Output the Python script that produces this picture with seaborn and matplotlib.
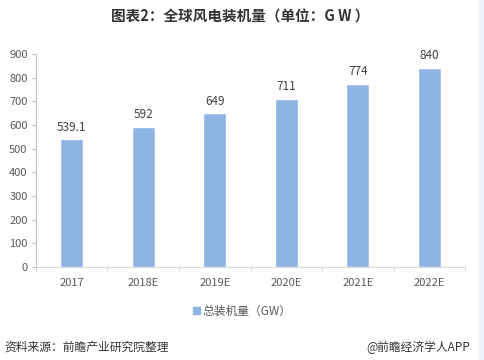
import pandas as pd
import matplotlib.pyplot as plt
import matplotlib.patches as mpatches
import seaborn as sns

# data
years = ["2017", "2018E", "2019E", "2020E", "2021E", "2022E"]
capacity = [539.1, 592, 649, 711, 774, 840]
value_labels = ["539.1", "592", "649", "711", "774", "840"]

df = pd.DataFrame({"year": years, "capacity": capacity})

sns.set_theme(style="white")
plt.rcParams["font.family"] = ["Noto Sans CJK SC", "DejaVu Sans"]

bar_color = "#8DB4E2"
grey = "#595959"

fig = plt.figure(figsize=(4.85, 3.6), dpi=100)
ax = fig.add_axes([0.074, 0.258, 0.885, 0.592])

sns.barplot(data=df, x="year", y="capacity", color=bar_color, width=0.32,
            saturation=1, ax=ax)

for i, (v, lab) in enumerate(zip(capacity, value_labels)):
    ax.text(i, v + 25, lab, ha="center", va="bottom", fontsize=8.5, color="#404040")

ax.set_ylim(0, 900)
ax.set_xlim(-0.5, 5.5)
ax.set_yticks(range(0, 901, 100))
ax.set_xlabel("")
ax.set_ylabel("")
ax.tick_params(axis="y", labelsize=8, labelcolor=grey, length=3, color="#bfbfbf",
               left=True, width=0.8, pad=3)
ax.tick_params(axis="x", labelsize=8, labelcolor=grey, length=0, pad=8)
ax.set_xticks([x + 0.5 for x in range(-1, 6)], minor=True)
ax.tick_params(axis="x", which="minor", length=3, color="#d9d9d9", bottom=True, width=0.8)

for s in ["top", "right"]:
    ax.spines[s].set_visible(False)
ax.spines["left"].set_color("#bfbfbf")
ax.spines["bottom"].set_color("#d9d9d9")
ax.spines["left"].set_linewidth(0.8)
ax.spines["bottom"].set_linewidth(0.8)

fig.text(0.495, 0.955, "图表2：全球风电装机量（单位：G W ）", ha="center", va="center",
         fontsize=10.5, fontweight="bold", color="#333333")

handle = mpatches.Patch(color=bar_color, label="总装机量（GW）")
fig.legend(handles=[handle], loc="center", bbox_to_anchor=(0.5, 0.135), frameon=False,
           fontsize=8.5, handlelength=0.6, handleheight=0.6, handletextpad=0.2,
           labelcolor=grey)

fig.text(0.01, 0.035, "资料来源：前瞻产业研究院整理", ha="left", va="center",
         fontsize=8.5, color="#333333", style="italic")
fig.text(0.97, 0.035, "@前瞻经济学人APP", ha="right", va="center",
         fontsize=8.5, color="#333333")

fig.patches.append(mpatches.Rectangle((0.988, 0), 0.012, 1, transform=fig.transFigure,
                                      color="#EEF3F8", zorder=0))

fig.savefig("out.png", dpi=100)
